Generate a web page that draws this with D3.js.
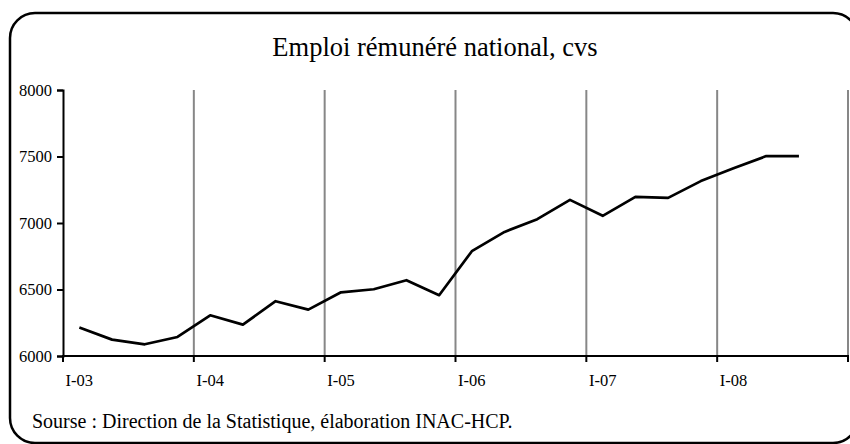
<!DOCTYPE html>
<html>
<head>
<meta charset="utf-8">
<script src="https://cdn.jsdelivr.net/npm/d3@7"></script>
<style>
  body { margin: 0; background: #fff; }
  svg { display: block; }
  text { font-family: "Liberation Serif", "Times New Roman", serif; fill: #000; }
</style>
</head>
<body>
<svg id="chart" width="850" height="444"></svg>
<script>
// quarters I-03 ... IV-08
const years = ["03", "04", "05", "06", "07", "08"];
const quarters = ["I", "II", "III", "IV"];
const categories = years.flatMap(y => quarters.map(q => `${q}-${y}`));

// emploi rémunéré national, cvs (one value per quarter, up to III-08)
const values = [
  6214, 6123, 6088, 6143,
  6306, 6236, 6412, 6349,
  6479, 6502, 6570, 6457,
  6788, 6933, 7029, 7174,
  7054, 7197, 7189, 7315,
  7411, 7503, 7503
];

const yTicks = [6000, 6500, 7000, 7500, 8000];
const xLabels = years.map(y => `I-${y}`);

const title = "Emploi rémunéré national, cvs";
const source = "Sourse : Direction de la Statistique, élaboration INAC-HCP.";

const svg = d3.select("#chart");
const plot = { left: 63, right: 848, top: 90, bottom: 356 };

// frame with rounded corners
svg.append("rect")
  .attr("x", 10)
  .attr("y", 13)
  .attr("width", 848)
  .attr("height", 430)
  .attr("rx", 25)
  .attr("fill", "#fff")
  .attr("stroke", "#000")
  .attr("stroke-width", 2.5);

const x = d3.scaleBand()
  .domain(categories)
  .range([plot.left, plot.right])
  .padding(0);

const y = d3.scaleLinear()
  .domain([6000, 8000])
  .range([plot.bottom, plot.top]);

// year boundaries (every 4 quarters) + right end
const bounds = categories.filter((d, i) => i % 4 === 0).map(d => x(d));
bounds.push(plot.right);

// vertical gridlines
svg.append("g")
  .selectAll("line")
  .data(bounds.slice(1))
  .join("line")
  .attr("x1", d => d)
  .attr("x2", d => d)
  .attr("y1", y(8000))
  .attr("y2", y(6000))
  .attr("stroke", "#878787")
  .attr("stroke-width", 2);

// y axis
const yAxis = svg.append("g")
  .attr("transform", `translate(${plot.left},0)`)
  .call(d3.axisLeft(y).tickValues(yTicks).tickSize(6).tickPadding(5).tickFormat(d3.format("d")));
yAxis.select(".domain").attr("stroke", "#000").attr("stroke-width", 2);
yAxis.selectAll(".tick line").attr("stroke", "#000").attr("stroke-width", 2);
yAxis.selectAll(".tick text")
  .style("font-family", '"Liberation Serif", serif')
  .style("font-size", "16.5px");

// x axis
svg.append("line")
  .attr("x1", plot.left - 1)
  .attr("x2", plot.right + 1)
  .attr("y1", y(6000))
  .attr("y2", y(6000))
  .attr("stroke", "#000")
  .attr("stroke-width", 2);

svg.append("g")
  .selectAll("line")
  .data(bounds)
  .join("line")
  .attr("x1", d => d)
  .attr("x2", d => d)
  .attr("y1", y(6000))
  .attr("y2", y(6000) + 6)
  .attr("stroke", "#000")
  .attr("stroke-width", 2);

svg.append("g")
  .selectAll("text")
  .data(xLabels)
  .join("text")
  .attr("x", d => x(d) + x.bandwidth() / 2)
  .attr("y", y(6000) + 30)
  .attr("text-anchor", "middle")
  .style("font-size", "16.5px")
  .text(d => d);

// the line
const line = d3.line()
  .x((d, i) => x(categories[i]) + x.bandwidth() / 2)
  .y(d => y(d));

svg.append("path")
  .datum(values)
  .attr("fill", "none")
  .attr("stroke", "#000")
  .attr("stroke-width", 2.7)
  .attr("stroke-linejoin", "round")
  .attr("d", line);

// title
svg.append("text")
  .attr("x", 435)
  .attr("y", 56)
  .attr("text-anchor", "middle")
  .style("font-size", "26.5px")
  .text(title);

// source
svg.append("text")
  .attr("x", 32)
  .attr("y", 428)
  .style("font-size", "20px")
  .text(source);
</script>
</body>
</html>
